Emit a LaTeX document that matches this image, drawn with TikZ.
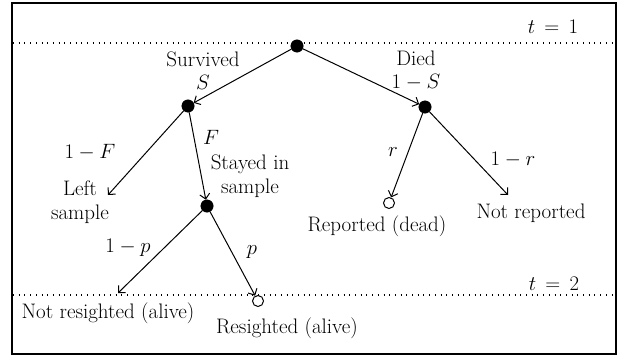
\documentclass[tikz,border=0pt]{standalone}
\usetikzlibrary{arrows.meta}
\begin{document}
\begin{tikzpicture}[x=1pt,y=-1pt,
  every node/.style={font=\fontsize{21}{24}\selectfont, inner sep=0pt, align=center},
  dot/.style={circle, fill=black, draw=black, minimum size=12.5pt},
  hollow/.style={circle, draw=black, line width=1pt, fill=white, minimum size=11pt},
  arr/.style={line width=1pt, -{Straight Barb[length=5pt,width=10pt,line width=1pt]}},
  sep/.style={line width=1.1pt, dash pattern=on 1pt off 4.7pt}]
\useasboundingbox (0,0) rectangle (618,356);
\draw[line width=1.1pt] (12,3) rectangle (616,354);
\draw[sep] (13,43) -- (615,43);
\draw[sep] (13,295) -- (615,295);
\node (t1) at (553,27) {$t\,=\,1$};
\node (t2) at (554,284) {$t\,=\,2$};
% tree nodes
\node[dot] (root) at (297,46) {};
\node[dot] (surv) at (188,106) {};
\node[dot] (died) at (425,107) {};
\node[dot] (stay) at (207,206) {};
\node[hollow] (rep) at (389,203) {};
\node[hollow] (res) at (258,301) {};
\coordinate (leftend) at (108,195);
\coordinate (notrepend) at (508,195);
\coordinate (notresend) at (118,293);
% connectors
\draw[arr] (root) -- (surv);
\draw[arr] (root) -- (died);
\draw[arr] (surv) -- (leftend);
\draw[arr] (surv) -- (stay);
\draw[arr] (died) -- (rep);
\draw[arr] (died) -- (notrepend);
\draw[arr] (stay) -- (notresend);
\draw[arr] (stay) -- (res);
% labels
\node (survived) at (203,71) {Survived\\[-1pt]$S$};
\node (diedlab) at (416,71) {Died\\[-1pt]$1-S$};
\node (oneF) at (90,152) {$1-F$};
\node (Flab) at (211,137) {$F$};
\node (stayed) at (250,176) {Stayed in\\sample};
\node (left) at (80,202) {Left\\sample};
\node (rlab) at (393,152) {$r$};
\node (oner) at (513,160) {$1-r$};
\node (reported) at (377,226) {Reported (dead)};
\node (notrep) at (531,213) {Not reported};
\node (onep) at (128,248) {$1-p$};
\node (plab) at (252,252) {$p$};
\node (notres) at (108,313) {Not resighted (alive)};
\node (resighted) at (287,328) {Resighted (alive)};
\end{tikzpicture}
\end{document}
